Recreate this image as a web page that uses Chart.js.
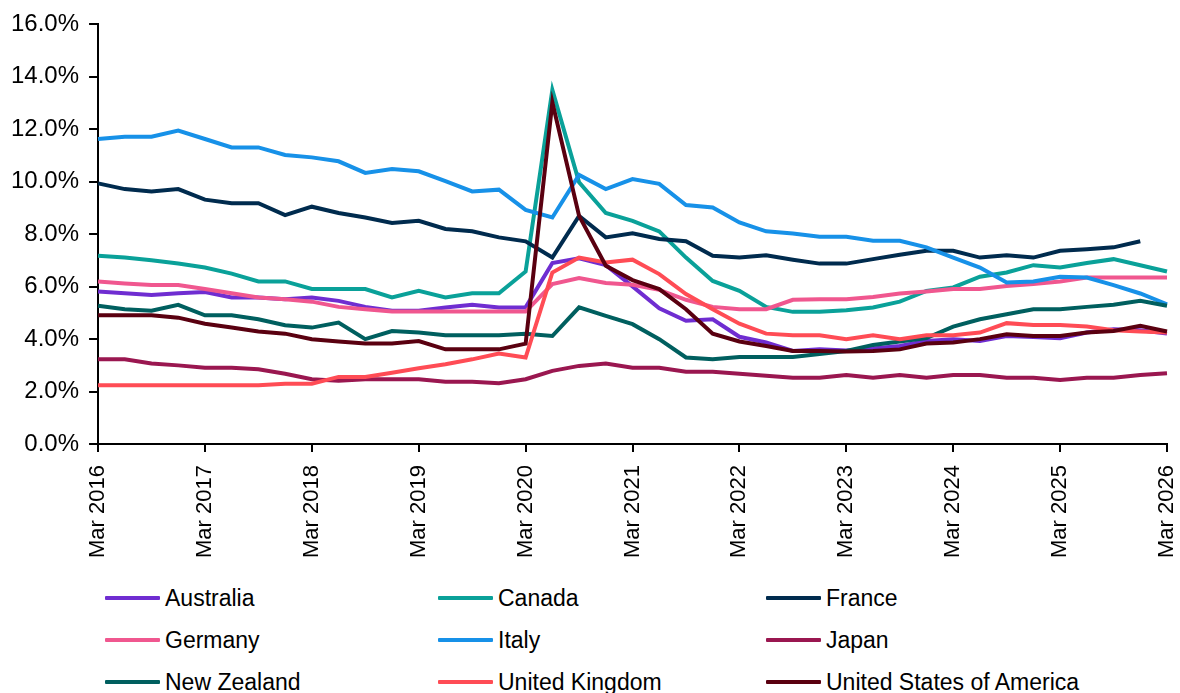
<!DOCTYPE html>
<html>
<head>
<meta charset="utf-8">
<script src="https://cdn.jsdelivr.net/npm/chart.js@4"></script>
<style>
  html, body { margin: 0; padding: 0; background: #fff; overflow: hidden; }
  body { width: 1180px; height: 693px; position: relative; font-family: "Liberation Sans", Arial, sans-serif; }
  #wrap { position: absolute; left: 0; top: 0; width: 1180px; height: 571px; }
  #legend { position: absolute; left: 0; top: 577px; width: 1180px; }
  .item { position: absolute; display: flex; align-items: center; height: 42px; font-size: 23px; color: #000; white-space: nowrap; }
  .swatch { width: 55px; height: 4px; margin-right: 5px; border-radius: 1px; }
</style>
</head>
<body>
<div id="wrap"><canvas id="rates"></canvas></div>
<div id="legend"></div>
<script>
// quarterly, Mar 2016 .. Mar 2026
const quarters = [];
for (let y = 2016; y <= 2026; y++) {
    ['Mar', 'Jun', 'Sep', 'Dec'].forEach(m => {
        if (y < 2026 || m === 'Mar') quarters.push(m + ' ' + y);
    });
}

const australia = [5.82, 5.75, 5.68, 5.75, 5.80, 5.59, 5.59, 5.52, 5.59, 5.46, 5.23, 5.08, 5.08, 5.21, 5.31, 5.21, 5.21,
    6.90, 7.08, 6.82, 6.01, 5.18, 4.70, 4.76, 4.09, 3.87, 3.55,
    3.61, 3.57, 3.64, 3.74, 3.93, 4.00, 3.93, 4.12, 4.08, 4.03, 4.25, 4.38, 4.34, 4.21];
const canada = [7.18, 7.11, 7.01, 6.88, 6.73, 6.50, 6.20, 6.20, 5.91, 5.91, 5.91, 5.59, 5.84, 5.59, 5.75, 5.75, 6.58,
    13.5, 9.98, 8.81, 8.51, 8.11, 7.11, 6.22, 5.84, 5.23, 5.04,
    5.04, 5.10, 5.21, 5.43, 5.84, 5.97, 6.38, 6.54, 6.82, 6.73, 6.90, 7.05, 6.82, 6.58];
const france = [9.94, 9.72, 9.63, 9.72, 9.32, 9.18, 9.18, 8.73, 9.05, 8.81, 8.64, 8.43, 8.51, 8.20, 8.11, 7.88, 7.73,
    7.11, 8.70, 7.88, 8.04, 7.82, 7.73, 7.18, 7.11, 7.20, 7.03,
    6.88, 6.88, 7.05, 7.22, 7.37, 7.37, 7.11, 7.20, 7.11, 7.37, 7.43, 7.50, 7.73, null];
const germany = [6.20, 6.12, 6.06, 6.06, 5.91, 5.75, 5.59, 5.52, 5.43, 5.23, 5.14, 5.05, 5.05, 5.05, 5.05, 5.05, 5.05,
    6.10, 6.33, 6.14, 6.07, 5.88, 5.50, 5.23, 5.14, 5.14, 5.50,
    5.52, 5.52, 5.61, 5.74, 5.82, 5.91, 5.91, 6.03, 6.10, 6.20, 6.35, 6.35, 6.35, 6.35];
const italy = [11.63, 11.72, 11.72, 11.95, 11.63, 11.31, 11.31, 11.02, 10.93, 10.78, 10.34, 10.49, 10.40, 10.02, 9.63, 9.70, 8.93,
    8.64, 10.26, 9.72, 10.10, 9.92, 9.11, 9.02, 8.45, 8.11, 8.03,
    7.90, 7.90, 7.75, 7.75, 7.50, 7.11, 6.73, 6.16, 6.20, 6.38, 6.35, 6.06, 5.74, 5.33];
const japan = [3.23, 3.23, 3.07, 3.00, 2.91, 2.91, 2.85, 2.68, 2.47, 2.41, 2.47, 2.47, 2.47, 2.38, 2.38, 2.32, 2.47,
    2.79, 2.98, 3.07, 2.91, 2.91, 2.76, 2.76, 2.68, 2.60, 2.53,
    2.53, 2.63, 2.53, 2.63, 2.53, 2.63, 2.63, 2.53, 2.53, 2.44, 2.53, 2.53, 2.63, 2.70];
const newZealand = [5.27, 5.14, 5.08, 5.31, 4.91, 4.91, 4.76, 4.53, 4.44, 4.63, 4.00, 4.31, 4.25, 4.15, 4.15, 4.15, 4.21,
    4.12, 5.21, 4.89, 4.57, 4.00, 3.30, 3.23, 3.32, 3.32, 3.32,
    3.43, 3.55, 3.78, 3.91, 4.04, 4.48, 4.76, 4.95, 5.14, 5.14, 5.23, 5.31, 5.46, 5.27];
const unitedKingdom = [2.24, 2.24, 2.24, 2.24, 2.24, 2.24, 2.24, 2.30, 2.30, 2.56, 2.56, 2.72, 2.89, 3.04, 3.23, 3.45, 3.30,
    6.54, 7.11, 6.92, 7.03, 6.48, 5.72, 5.14, 4.59, 4.21, 4.15,
    4.15, 4.00, 4.15, 4.00, 4.15, 4.15, 4.25, 4.61, 4.54, 4.54, 4.48, 4.34, 4.29, 4.25];
const usa = [4.91, 4.91, 4.91, 4.82, 4.59, 4.44, 4.29, 4.21, 4.00, 3.91, 3.83, 3.83, 3.93, 3.61, 3.61, 3.61, 3.83,
    13.03, 8.70, 6.80, 6.25, 5.91, 5.14, 4.21, 3.91, 3.74, 3.55,
    3.55, 3.53, 3.55, 3.61, 3.83, 3.87, 4.00, 4.19, 4.12, 4.12, 4.25, 4.31, 4.51, 4.29];

const seriesNames = ['Australia', 'Canada', 'France', 'Germany', 'Italy', 'Japan', 'New Zealand', 'United Kingdom', 'United States of America'];
const seriesValues = [australia, canada, france, germany, italy, japan, newZealand, unitedKingdom, usa];
const seriesColors = ['#6f2dd1', '#0aa199', '#002b4e', '#f0578f', '#1791e8', '#9a1750', '#005f5f', '#ff4c55', '#5a0010'];

const yTicks = [0, 2, 4, 6, 8, 10, 12, 14, 16];

const FAMILY = '"Liberation Sans", Arial, sans-serif';

const datasets = seriesNames.map((name, i) => ({
    label: name,
    data: seriesValues[i],
    borderColor: seriesColors[i],
    backgroundColor: seriesColors[i],
    borderWidth: 4,
    pointRadius: 0,
    tension: 0,
    fill: false,
    order: seriesNames.length - i // later series on top
}));

new Chart(document.getElementById('rates'), {
    type: 'line',
    data: { labels: quarters, datasets },
    options: {
        responsive: true,
        maintainAspectRatio: false,
        animation: false,
        layout: { padding: { top: 14, right: 0, left: 1, bottom: 0 } },
        plugins: { legend: { display: false }, tooltip: { enabled: false } },
        scales: {
            x: {
                border: { display: true, color: '#000', width: 2 },
                grid: {
                    drawOnChartArea: false,
                    drawTicks: true,
                    tickLength: 8,
                    lineWidth: 2,
                    color: ctx => (ctx.index % 4 === 0 ? '#000' : 'rgba(0,0,0,0)')
                },
                ticks: {
                    autoSkip: false,
                    maxRotation: 90,
                    minRotation: 90,
                    padding: 13,
                    color: '#000',
                    font: { family: FAMILY, size: 22 },
                    callback: (v, i) => (i % 4 === 0 ? quarters[i] : '')
                },
                // only half a label height is needed past the last tick
                afterFit: scale => { scale.paddingRight = 13; }
            },
            y: {
                min: yTicks[0],
                max: yTicks[yTicks.length - 1],
                border: { display: true, color: '#000', width: 2 },
                grid: { drawOnChartArea: false, drawTicks: true, tickLength: 9, lineWidth: 2, color: '#000' },
                afterBuildTicks: axis => { axis.ticks = yTicks.map(v => ({ value: v })); },
                ticks: {
                    padding: 10,
                    color: '#000',
                    font: { family: FAMILY, size: 24 },
                    callback: v => v.toFixed(1) + '%'
                }
            }
        }
    }
});

// three-column legend under the chart
const legendEl = document.getElementById('legend');
const colX = [105, 438, 766];
seriesNames.forEach((name, i) => {
    const item = document.createElement('div');
    item.className = 'item';
    item.style.left = colX[i % 3] + 'px';
    item.style.top = (Math.floor(i / 3) * 42) + 'px';
    item.innerHTML = '<span class="swatch" style="background:' + seriesColors[i] + '"></span>' + name;
    legendEl.appendChild(item);
});
</script>
</body>
</html>
